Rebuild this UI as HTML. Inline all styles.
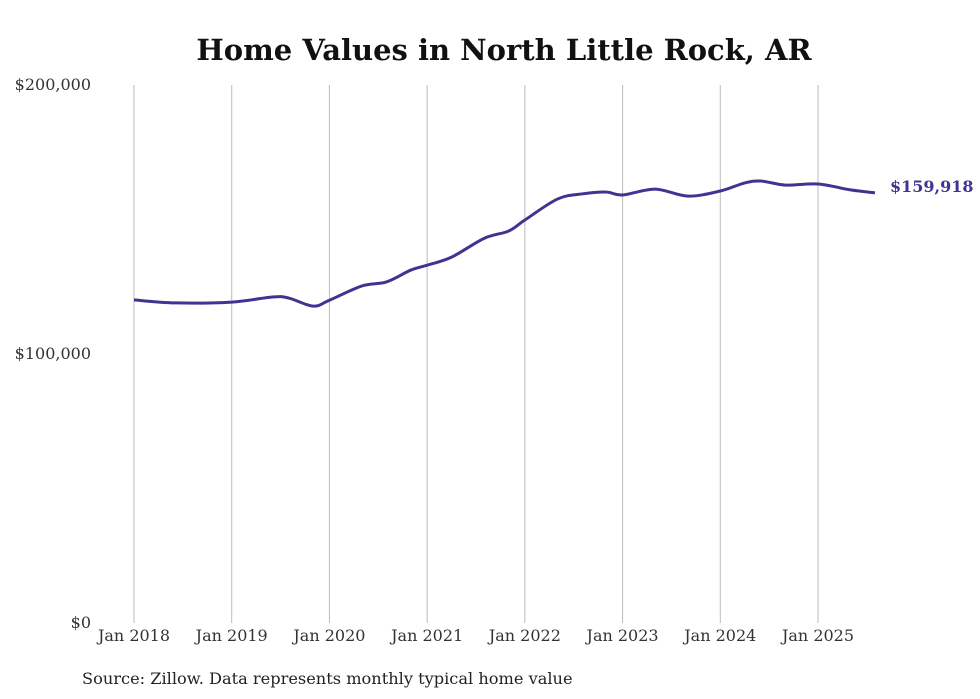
<!DOCTYPE html>
<html><head><meta charset="utf-8"><style>
body{margin:0;background:#fff;}
svg{display:block;font-family:"DejaVu Serif",serif;}
</style></head><body>
<svg id="chart" width="980" height="699">
<text x="504" y="60" text-anchor="middle" font-size="29" font-weight="bold" fill="#111">Home Values in North Little Rock, AR</text>
<g id="grid"></g><g id="yt"></g><g id="xt"></g>
<path id="line" fill="none" stroke="#3d3591" stroke-width="3"/>
<text id="lastlbl" font-size="16" font-weight="bold" fill="#3d3591"></text>
<text x="82" y="684" font-size="16.2" fill="#222">Source: Zillow. Data represents monthly typical home value</text>
</svg>
<script>
// months since Jan 2018
const months=[0,5,12,17,19,22,24,28,31,34,36,39,43,46,48,52,55,58,60,64,68,72,75,77,80,84,88,91];
const values=[120.1,119,119.3,121.2,120.8,117.8,120,125.3,126.8,131.2,133,136,143,145.7,149.8,157.6,159.5,160.2,159.1,161.3,158.7,160.6,163.6,164.3,162.8,163.2,161,159.9];
const xLabels=["Jan 2018","Jan 2019","Jan 2020","Jan 2021","Jan 2022","Jan 2023","Jan 2024","Jan 2025"];
const yTicks=[0,100,200];
const yTickLabels=["$0","$100,000","$200,000"];
const lastLabel="$159,918";
const x=m=>134+m*(684/84);
const y=v=>623-v*2.69;
const ns="http://www.w3.org/2000/svg";
const g=document.getElementById('grid'),yt=document.getElementById('yt'),xt=document.getElementById('xt');
xLabels.forEach((l,i)=>{
 const px=x(i*12);
 const ln=document.createElementNS(ns,'line');
 ln.setAttribute('x1',px);ln.setAttribute('x2',px);ln.setAttribute('y1',85);ln.setAttribute('y2',623);
 ln.setAttribute('stroke','#bbb');ln.setAttribute('stroke-width','1');
 
 
 g.appendChild(ln);
 const t=document.createElementNS(ns,'text');
 t.setAttribute('x',px);t.setAttribute('y',641);t.setAttribute('text-anchor','middle');t.setAttribute('font-size','16');t.setAttribute('fill','#333');
 t.textContent=l;
 
 
 xt.appendChild(t);
});
yTicks.forEach((v,i)=>{
 const t=document.createElementNS(ns,'text');
 t.setAttribute('x',91);t.setAttribute('y',y(v)+5);t.setAttribute('text-anchor','end');t.setAttribute('font-size','16');t.setAttribute('fill','#333');
 t.textContent=yTickLabels[i];
 
 
 yt.appendChild(t);
});
const P=months.map((m,i)=>[x(m),y(values[i])]);
let d=`M${P[0][0]},${P[0][1]}`;
for(let i=0;i<P.length-1;i++){
 const p0=P[Math.max(0,i-1)],p1=P[i],p2=P[i+1],p3=P[Math.min(P.length-1,i+2)];
 const c1=[p1[0]+(p2[0]-p0[0])/6,p1[1]+(p2[1]-p0[1])/6];
 const c2=[p2[0]-(p3[0]-p1[0])/6,p2[1]-(p3[1]-p1[1])/6];
 d+=`C${c1[0]},${c1[1]} ${c2[0]},${c2[1]} ${p2[0]},${p2[1]}`;
}
document.getElementById('line').setAttribute('d',d);
const lb=document.getElementById('lastlbl');
const L=P[P.length-1];
lb.setAttribute('x',L[0]+15);lb.setAttribute('y',L[1]-1);lb.textContent=lastLabel;
</script>
</body></html>
